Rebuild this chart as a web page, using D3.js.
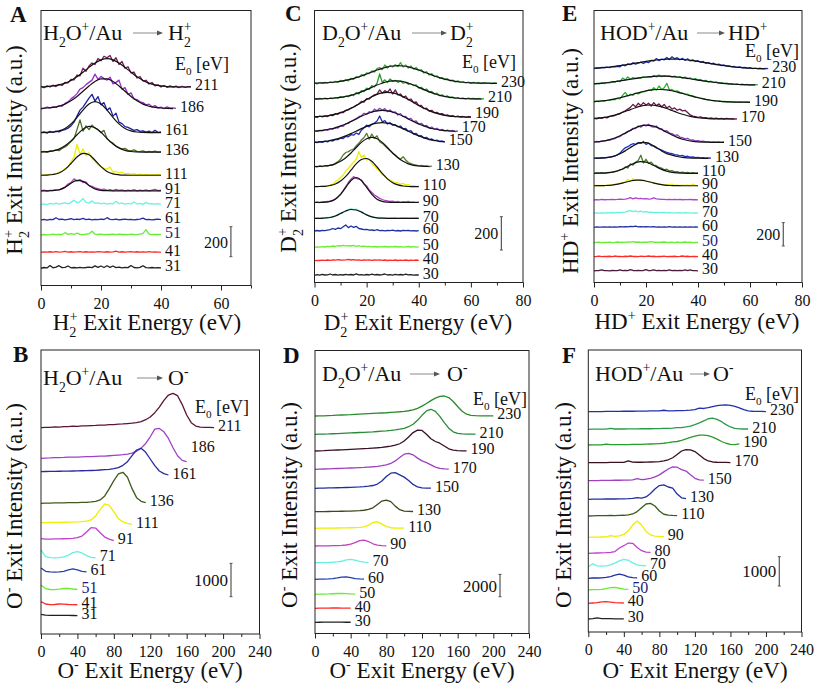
<!DOCTYPE html>
<html><head><meta charset="utf-8">
<script src="https://cdn.jsdelivr.net/npm/d3@7"></script>
<style>
body{margin:0;background:#fff}
svg text{font-family:"Liberation Serif","Times New Roman",serif;white-space:pre}
</style>
</head><body>
<svg id="chart" width="817" height="687"></svg>
<script>
// ---------------- DATA (counts above each trace's offset) ----------------
// Panel A : H2O+/Au -> H2+  (x from 0 eV, 1 eV step; fits 2 eV step)
const A_E0 = ["211","186","161","136","111","91","71","61","51","41","31"];
const A_offset = [1323,1179,1019,889,735,631,539,437,337,221,115];
const A_xTicks = [0,20,40,60];
const A_data = [
[5,-5,8,0,12,3,18,10,30,28,50,48,80,75,125,105,140,160,150,190,175,205,195,210,170,195,150,170,125,135,95,100,60,70,40,45,20,30,8,15,0,10,-2,8,0,6,-4,5,-3,2,3],
[-3,3,10,5,12,8,20,15,35,45,65,80,100,130,140,160,175,190,230,195,215,200,190,210,165,175,190,130,140,95,105,65,60,45,40,25,30,12,20,5,10,0,12,3,5,2],
[0,5,-3,8,2,10,5,15,20,30,45,70,110,150,170,200,230,255,210,240,185,200,150,165,110,130,70,60,40,35,25,15,20,8,12,3,10,0,15,2,5],
[0,5,-2,6,8,15,10,25,35,50,70,90,150,215,140,175,150,180,160,150,130,145,90,70,60,40,30,20,25,12,8,15,5,3,8,0,5,2,6,0,3],
[0,3,0,5,5,10,20,25,45,55,90,120,205,140,175,130,150,110,95,70,60,45,40,55,20,25,15,20,10,12,5,10,3,8,2,6,0,4,2,5,0],
[0,5,-2,3,5,8,5,15,25,45,55,80,65,75,55,60,35,30,20,15,8,12,3,8,2,10,3,6,0,5,2,8,0,4,2,7,0,5,10,2,4],
[0,5,0,8,3,10,4,8,12,5,15,30,12,20,42,15,10,25,8,12,5,10,4,8,5,22,6,10,3,8,5,18,4,8,2,15,5,7,3,6,2],
[0,3,-2,4,2,15,3,5,0,4,8,2,6,3,10,2,5,0,4,2,6,3,15,4,2,6,0,3,5,2,4,0,3,6,12,2,4,0,3,5,2],
[0,3,0,2,5,2,4,3,15,4,8,3,12,4,2,5,8,25,5,3,6,2,4,3,5,2,6,3,4,2,5,3,2,6,10,35,5,2,4,3,2],
[0,3,1,4,2,5,1,3,6,2,4,1,3,5,2,4,1,3,2,5,3,1,4,2,3,8,2,4,1,3,5,2,4,1,3,2,5,2,3,1,2],
[0,5,2,18,3,8,17,4,6,15,3,5,2,6,3,5,8,4,16,6,15,5,17,6,15,4,8,3,6,4,18,5,3,6,17,4,3,5,2,4,3]
];
const A_fit = [
[1,3,7,14,26,44,68,99,131,160,181,189,181,160,131,99,68,44,26,14,7,3,1,0,0,0],
[1,4,8,16,30,52,81,116,151,181,198,198,181,151,116,81,52,30,16,8,4,1,0],
[0,1,4,12,28,58,101,150,191,207,191,150,101,58,28,12,4,1,0,0,0],
[1,3,8,20,42,75,116,152,171,162,132,91,54,27,12,4,1,0,0,0,0],
[0,1,5,15,39,78,121,146,137,100,57,25,9,3,1,0,0,0,0,0,0],
[0,0,1,7,23,50,70,63,36,13,3,1,0,0,0,0,0,0,0,0,0],
[],[],[],[],[]
];
const A_colors = ["#6e1a55","#9b30c8","#1f1f9f","#4d6b24","#eeee00","#b43cc0","#6ff0e4","#2a2aa8","#66ee33","#ff2a2a","#222222"];

// Panel B : H2O+/Au -> O-  (5 eV step)
const B_E0 = ["211","186","161","136","111","91","71","61","51","41","31"];
const B_offset = [6189,5169,4770,3921,3291,2799,2271,1851,1320,870,549];
const B_xTicks = [0,40,80,120,160,200,240];
const B_data = [
[0,12,10,22,20,32,30,45,42,52,55,62,68,78,80,92,95,105,112,125,135,155,185,240,320,450,620,820,980,1030,960,700,380,150,50,20,10,12,5],
[100,110,112,120,125,128,135,138,140,145,150,155,160,165,170,178,188,198,210,228,258,318,408,548,748,978,998,898,698,420,180,40,0],
[100,105,108,110,112,115,118,120,125,128,130,135,140,150,160,170,190,220,290,400,580,750,800,680,480,280,120,40,0],
[0,5,8,10,12,15,18,20,22,25,30,40,60,100,220,440,680,880,930,780,440,170,60,20],
[50,52,55,58,60,62,65,68,70,80,95,130,250,450,610,570,370,170,70,30,0],
[60,45,50,52,55,58,62,70,90,140,260,390,380,240,110,50,0],
[250,50,20,15,20,40,90,170,200,160,80,30,15],
[130,30,12,8,12,30,75,100,70,25,10],
[150,40,15,12,25,45,50,30,15],
[100,30,12,15,30,25,15,10,8],
[40,15,10,8,10,8,10,6,5]
];
const B_colors = ["#5a1438","#a040c8","#2a2aa0","#3f5a1c","#eeee00","#c040d0","#66f0e0","#2a3cb0","#66ee30","#ff2a2a","#2a1a1a"];

// Panel C : D2O+/Au -> D2+
const C_E0 = ["230","210","190","170","150","130","110","90","70","60","50","40","30"];
const C_offset = [1195,1101,991,905,839,695,575,480,385,309,211,131,43];
const C_xTicks = [0,20,40,60,80];
const C_data = [
[3,-3,5,0,6,2,9,4,12,6,18,12,22,15,30,24,40,35,52,45,62,58,75,68,88,95,82,110,92,108,98,112,100,124,98,110,92,104,85,95,76,82,62,70,50,58,40,45,30,35,22,28,15,20,8,15,5,10,2,8,0,6,1,5,-2,4,0,3,-1,2,0],
[2,-2,4,0,5,1,6,3,8,5,14,9,18,14,26,20,38,30,50,44,65,58,80,72,95,150,100,115,98,120,105,112,100,108,95,100,88,92,80,85,66,70,55,60,42,45,30,35,20,25,14,18,8,12,4,9,2,6,0,5,2,4,-1,3,0,2],
[4,0,8,3,9,5,14,10,22,18,30,28,42,45,55,62,72,80,95,92,112,110,125,135,140,165,145,160,150,170,140,165,135,140,120,128,105,110,88,92,70,72,52,55,38,42,28,30,20,22,12,15,6,10,3,8,2,5,0,4,2],
[5,2,8,5,12,8,18,14,25,22,35,32,48,50,62,70,78,90,95,110,105,120,115,135,125,140,128,138,120,130,115,118,100,108,90,92,75,80,60,65,45,50,35,38,22,28,15,20,8,14,5,10,3,7,1,4],
[3,0,6,2,9,5,14,10,20,18,28,25,38,35,48,45,58,50,75,90,105,95,110,118,130,160,125,132,112,120,105,108,95,100,82,85,68,72,52,56,40,42,28,32,18,22,12,15,7,10,5],
[2,-2,4,1,6,3,10,8,20,30,45,70,85,90,100,105,125,140,160,175,200,165,195,170,185,150,140,125,110,95,80,70,55,45,60,40,25,18,12,10,5,8,3,5,1,3],
[2,0,3,1,5,3,10,15,30,40,55,70,95,110,130,145,165,210,175,190,160,165,140,125,105,95,70,65,45,40,30,25,22,15,20,10,12,5,6,2,3],
[0,3,0,4,3,6,8,12,22,35,50,70,95,120,140,155,145,140,135,110,100,75,60,45,35,25,18,12,10,6,8,4,6,2,5,3,6,2,4,1,3],
[0,3,-1,4,2,5,6,10,15,20,30,35,45,50,58,52,55,45,40,30,22,15,10,6,4,5,2,4,1,3,2,4,0,3,2,4,1,3,2,4,1],
[0,3,0,4,2,5,8,15,10,18,14,25,36,20,30,22,28,15,12,8,10,5,6,3,8,2,4,1,3,2,5,1,3,0,4,2,3,1,2,0,2],
[0,3,1,4,2,6,4,8,5,10,8,12,9,10,8,12,6,10,5,7,4,6,3,5,2,4,3,5,2,4,3,5,2,4,1,3,5,2,4,1,3],
[0,2,1,3,2,4,2,5,3,6,4,3,5,8,4,6,3,5,2,4,3,5,2,4,3,5,2,4,1,3,2,4,1,3,2,4,1,3,2,4,2],
[0,4,1,6,2,3,8,2,5,1,4,2,6,3,5,2,9,3,4,1,5,2,7,3,5,2,4,8,2,4,1,6,3,5,2,7,3,4,1,3,2]
];
const C_fit = [
[1,2,3,5,8,12,18,25,34,44,56,68,80,90,99,104,106,104,99,90,80,68,56,44,34,25,18,12,8,5,3,2,1,1,0,0],
[1,1,2,3,6,10,15,22,32,43,56,70,84,95,105,109,109,105,95,84,70,56,43,32,22,15,10,6,3,2,1,1,0],
[3,5,7,12,19,28,40,54,71,89,107,124,138,147,150,147,138,124,107,89,71,54,40,28,19,12,7,5,3,2,1],
[4,6,10,16,23,34,46,61,76,92,106,118,125,128,125,118,106,92,76,61,46,34,23,16,10,6,4,2],
[3,5,8,13,20,29,41,54,69,84,98,110,117,120,117,110,98,84,69,54,41,29,20,13,8,5],
[1,2,4,8,17,32,54,82,115,146,168,176,168,146,115,82,54,32,17,8,4,2,1],
[0,1,2,7,16,34,62,99,137,163,169,152,118,80,47,24,11,4,1,0,0],
[0,0,2,7,20,49,91,132,150,132,91,49,20,7,2,0,0,0,0,0,0],
[0,0,2,5,14,29,44,53,50,37,21,9,3,1,0,0,0,0,0,0,0],
[],[],[],[]
];
const C_colors = ["#3ea83e","#2e9a2e","#6a1a4a","#8a3cc8","#2030b0","#5a7a30","#eeee00","#b040c0","#66f0e0","#2030a0","#66ee30","#ff2a2a","#222222"];

// Panel D : D2O+/Au -> O-  (5 eV step)
const D_E0 = ["230","210","190","170","150","130","110","90","70","60","50","40","30"];
const D_offset = [19472,17833,16338,14700,12999,10904,9418,7833,6338,4852,3509,2256,1003];
const D_xTicks = [0,40,80,120,160,200,240];
const D_data = [
[0,10,20,40,50,70,90,100,120,150,170,190,210,230,250,270,290,320,350,380,420,470,540,680,880,1120,1380,1600,1760,1790,1650,1300,850,420,160,60,30,20,20,15,10],
[0,10,20,30,50,60,80,100,120,140,160,180,200,220,250,280,310,350,400,460,540,680,900,1250,1700,2100,2240,2050,1600,1050,550,220,80,30,20,15,10],
[0,20,30,50,70,90,110,130,150,170,190,210,230,260,290,330,380,440,520,650,900,1250,1650,1870,1840,1500,1100,850,700,450,200,80,30,20,10],
[0,15,25,40,55,70,85,100,115,130,150,170,200,230,270,320,400,520,750,1050,1350,1430,1300,1000,750,600,400,200,80,30,20],
[0,10,20,30,40,50,60,70,85,100,120,150,190,250,380,650,1050,1350,1400,1200,1000,700,350,120,40,20,10],
[0,10,15,20,30,35,40,50,60,80,100,130,200,350,650,950,1040,900,500,180,60,30,20],
[0,10,10,15,20,25,30,40,50,60,80,130,280,520,580,400,150,50,20,15,10],
[0,10,15,20,30,40,60,90,160,300,480,530,400,200,80,30,20],
[0,10,15,20,40,70,130,250,300,230,120,50,30],
[0,10,15,30,60,120,200,220,150,70,30,20],
[0,10,20,30,50,70,80,60,30,20],
[0,10,15,20,25,25,20,15,10],
[0,5,8,10,8,10,8,6,5]
];
const D_colors = ["#2a8a2a","#2a8a3a","#3a1028","#a040c0","#2030a0","#3a4a1a","#eeee00","#c040c0","#66f0e0","#2040b0","#66ee30","#ff2a2a","#222222"];

// Panel E : HOD+/Au -> HD+
const E_E0 = ["230","210","190","170","150","130","110","90","80","70","60","50","40","30"];
const E_offset = [1829,1692,1544,1401,1201,1064,936,829,707,593,473,341,221,99];
const E_xTicks = [0,20,40,60,80];
const E_data = [
[5,10,8,14,10,16,12,20,18,24,20,35,28,45,38,55,42,50,60,48,62,55,75,68,90,72,85,80,100,82,105,88,98,80,92,75,88,70,80,65,72,58,65,50,55,45,50,38,42,30,35,25,28,20,22,15,18,12,14,8,12,5,9,3,7,2,5,3],
[8,15,10,18,12,20,18,28,25,35,30,60,45,70,50,65,55,62,60,70,65,72,68,82,70,85,72,80,75,78,70,76,66,72,60,68,55,62,48,55,42,48,35,40,28,33,22,27,16,20,12,16,8,12,5,9,3,7,2,5,0,4,1,3],
[5,10,6,14,10,16,18,25,22,35,30,60,85,55,70,60,80,72,85,90,95,105,100,125,105,140,110,125,163,105,110,95,98,85,80,72,70,60,55,45,42,35,32,25,22,18,15,12,10,8,7,5,6,2,4,1,3,0,2,4,1],
[5,2,10,6,15,10,22,25,30,40,45,60,70,85,100,125,105,135,115,140,120,135,110,140,115,130,105,125,95,110,85,95,75,85,70,75,55,35,25,20,15,18,10,12,6,10,3,7,2,6,0,5,1,4,0,2],
[2,8,4,10,12,18,20,25,32,45,50,70,75,95,100,120,118,140,130,150,140,155,135,130,140,115,118,95,100,80,75,60,65,45,40,30,35,20,22,12,15,8,10,4,7,2,5,1,4,0,3],
[0,4,2,6,4,8,10,14,20,30,45,70,90,100,115,125,120,135,128,145,120,130,110,105,90,80,70,60,52,45,40,32,30,22,25,15,18,10,12,6,8,3,6,2,4,1],
[0,3,1,5,2,6,8,10,15,20,30,35,55,45,80,70,95,110,155,90,120,85,95,70,65,50,45,30,35,20,22,12,15,6,10,3,8,2,5,1,3],
[0,3,0,4,2,5,6,8,12,15,20,25,30,55,38,60,45,52,42,48,38,35,30,22,20,15,12,8,10,5,15,4,6,2,5,3,6,2,15,3,2],
[0,3,1,5,2,4,3,6,4,5,7,5,8,12,20,10,18,12,14,10,12,8,10,18,9,7,5,6,3,5,4,6,3,5,2,4,3,5,2,4,1],
[0,3,1,4,2,5,3,6,4,7,5,8,10,18,22,15,20,12,18,10,14,8,10,6,8,5,6,8,3,5,2,4,3,5,2,6,3,4,2,4,1],
[0,3,1,2,4,2,3,1,4,2,5,3,6,4,8,5,10,4,6,3,5,4,3,6,2,4,1,3,2,5,2,3,1,4,2,3,1,3,2,4,1],
[0,2,4,1,3,2,5,1,3,6,2,4,3,7,5,9,4,6,3,5,4,6,10,4,5,2,4,6,3,2,5,1,4,3,2,6,2,4,1,3,2],
[0,2,5,1,3,2,4,1,6,2,3,1,4,2,6,2,3,1,5,2,3,6,2,4,1,3,2,5,1,3,2,4,1,3,6,2,4,1,3,2,1],
[0,2,4,10,2,3,1,4,2,3,10,2,4,3,12,4,2,5,3,4,12,3,4,10,2,5,3,4,2,10,3,4,2,5,3,10,2,9,3,2,1]
];
const E_fit = [
[7,10,14,18,23,29,36,43,51,58,66,72,78,82,85,86,85,82,78,72,66,58,51,43,36,29,23,18,14,10,7,5,4,3],
[10,14,18,24,30,36,43,50,57,64,69,73,76,77,76,73,69,64,57,50,43,36,30,24,18,14,10,7,5,3,2,1],
[6,10,14,21,29,39,51,63,76,88,99,106,110,110,106,99,88,76,63,51,39,29,21,14,10,6,4,2,1,1,0],
[5,9,14,23,34,48,64,81,97,110,118,120,115,104,90,73,56,41,28,18,11,7,4,2,1,1,0,0],
[3,7,13,23,37,56,79,103,125,141,148,144,131,110,86,63,43,27,16,8,4,2,1,0,0,0],
[1,2,4,10,21,40,64,93,119,135,135,119,93,64,40,28,16,8,4,2,1,0,0],
[0,1,2,6,14,28,48,71,91,100,95,78,55,33,18,8,3,1,0,0,0],
[0,1,2,4,10,18,30,41,48,48,41,30,18,10,4,2,1,0,0,0,0],
[],[],[],[],[],[]
];
const E_colors = ["#2030c0","#30a040","#30b030","#6a1a4a","#9040c0","#2030c0","#4a7a2a","#eeee00","#b040d0","#66f0e0","#2030a0","#66ee30","#ff2a2a","#4a1a3a"];

// Panel F : HOD+/Au -> O-  (5 eV step)
const F_E0 = ["230","210","190","170","150","130","110","90","80","70","60","50","40","30"];
const F_offset = [7519,6918,6382,5778,5164,4529,3959,3232,2686,2229,1833,1433,980,444];
const F_xTicks = [0,40,80,120,160,200,240];
const F_data = [
[0,5,5,5,10,10,10,10,15,15,15,20,20,20,25,25,25,50,30,30,35,40,45,55,70,120,110,140,175,205,225,230,215,180,130,70,30,15,10,10,5],
[0,5,5,5,5,30,10,10,10,15,15,15,20,20,20,25,25,30,35,40,60,60,80,110,160,220,290,360,380,340,260,160,80,30,15,10,10],
[0,5,5,5,30,10,10,10,15,15,20,20,25,30,35,40,50,60,80,110,120,160,210,260,300,335,340,320,270,200,120,60,25,15,40],
[0,5,5,5,5,10,10,10,10,60,20,15,15,20,25,30,40,60,100,170,280,400,450,440,380,260,140,60,25,15,10,10,5],
[0,5,5,10,10,10,15,15,20,20,25,70,35,50,80,130,200,300,400,470,460,380,330,200,80,30,20],
[0,5,5,5,10,10,10,15,15,20,30,60,40,80,200,350,470,490,420,380,180,50,20],
[0,5,10,10,10,20,15,20,25,40,70,150,280,410,430,340,170,60,30,20,15],
[0,5,5,10,15,60,30,50,100,220,420,560,420,200,80,40,30,25],
[0,5,10,15,20,30,60,180,260,350,340,200,90,40,30],
[0,100,30,20,30,60,120,200,250,220,130,60,40,30],
[0,10,10,15,30,60,110,140,110,50,20,15],
[0,10,15,20,50,80,90,60,30,20],
[0,10,20,50,60,40,20,15,10],
[0,10,40,15,10,10,5,5,5]
];
const F_colors = ["#2030b0","#2a9a4a","#2a9a2a","#3a1020","#a040c0","#2030a0","#3a5a1a","#eeee00","#c040d0","#66f0e0","#2030a0","#66ee30","#ff2a2a","#222222"];

// ---------------- DRAWING ----------------
const svg = d3.select("#chart");
const SERIF = '"Liberation Serif","Times New Roman",serif';
const SANS = '"Liberation Sans",Arial,sans-serif';

function rich(g, x, y, parts, size, anchor) {
  const t = g.append("text").attr("x", x).attr("y", y).attr("font-size", size)
    .attr("text-anchor", anchor || "start").attr("fill", "#111");
  let cur = 0;
  for (const p of parts) {
    const k = p[1] || "n";
    const off = k === "sub" ? size * 0.3 : k === "sup" ? -size * 0.4 : 0;
    const ts = t.append("tspan").text(p[0]).attr("dy", off - cur)
      .attr("font-size", k === "n" ? size : size * 0.62);
    if (p[2]) ts.attr("dx", p[2]);
    cur = off;
  }
  return t;
}
function arrow(g, x1, x2, y) {
  g.append("line").attr("x1", x1).attr("x2", x2 - 4).attr("y1", y).attr("y2", y)
    .attr("stroke", "#8a8a8a").attr("stroke-width", 1);
  g.append("path").attr("d", `M${x2},${y}L${x2 - 6},${y - 2.5}L${x2 - 6},${y + 2.5}Z`).attr("fill", "#555");
}

function drawPanel(P) {
  const g = svg.append("g");
  const x = d3.scaleLinear().domain([0, P.xMax]).range(P.xr);
  const y = d3.scaleLinear().domain([0, P.yMax]).range(P.yr);
  const line = d3.line().x(d => x(d[0])).y(d => y(d[1]));
  const fitLine = d3.line().x(d => x(d[0])).y(d => y(d[1])).curve(d3.curveMonotoneX);

  P.data.forEach((vals, i) => {
    const pts = vals.map((v, j) => [j * P.step, P.offset[i] + v]);
    g.append("path").attr("d", line(pts)).attr("fill", "none")
      .attr("stroke", P.colors[i]).attr("stroke-width", 1.3).attr("stroke-linejoin", "round");
    if (P.fit && P.fit[i] && P.fit[i].length) {
      const fp = P.fit[i].map((v, j) => [j * P.fitStep, P.offset[i] + v]);
      g.append("path").attr("d", fitLine(fp)).attr("fill", "none")
        .attr("stroke", "#111").attr("stroke-width", 1.2);
    }
    const last = pts[pts.length - 1];
    const dy = P.labelDy ? (P.labelDy[i] || 0) : 0;
    g.append("text").attr("x", x(last[0]) + 4).attr("y", y(last[1]) + 3.5 + dy)
      .attr("font-size", 16).attr("fill", P.E0[i] === P.navy ? "#1c1c7a" : "#111")
      .text(P.E0[i]);
  });

  // frame
  g.append("rect").attr("x", P.xr[0]).attr("y", P.yr[1])
    .attr("width", P.xr[1] - P.xr[0]).attr("height", P.yr[0] - P.yr[1])
    .attr("fill", "none").attr("stroke", "#222").attr("stroke-width", 1);

  // x axis: major + minor ticks (outward)
  const minor = d3.range(0, P.xMax + 0.001, P.minorStep).filter(v => !P.major.includes(v));
  const ax = g.append("g").attr("transform", `translate(0,${P.yr[0]})`)
    .call(d3.axisBottom(x).tickValues(P.major).tickSize(5).tickPadding(P.tickPad).tickFormat(d3.format("d")));
  ax.select(".domain").remove();
  ax.selectAll("text").attr("font-family", SERIF).attr("font-size", 16).attr("fill", "#111");
  ax.selectAll("line").attr("stroke", "#222");
  const am = g.append("g").attr("transform", `translate(0,${P.yr[0]})`)
    .call(d3.axisBottom(x).tickValues(minor).tickSize(3).tickFormat(""));
  am.select(".domain").remove();
  am.selectAll("line").attr("stroke", "#222");

  // scale bar
  const bx = x(P.bar.x), b0 = y(P.bar.base), b1 = y(P.bar.base + P.bar.len);
  g.append("line").attr("x1", bx).attr("x2", bx).attr("y1", b0).attr("y2", b1)
    .attr("stroke", "#555").attr("stroke-width", 1.2);
  [b0, b1].forEach(v => g.append("line").attr("x1", bx - 1.5).attr("x2", bx + 1.5)
    .attr("y1", v).attr("y2", v).attr("stroke", "#555").attr("stroke-width", 1));
  g.append("text").attr("x", bx - 3).attr("y", (b0 + b1) / 2 + 6).attr("text-anchor", "end")
    .attr("font-family", SANS).attr("font-size", P.bar.size).attr("fill", "#111").text(P.bar.label);

  // panel letter
  g.append("text").attr("x", P.letter[1]).attr("y", P.letter[2]).attr("font-size", 23)
    .attr("font-weight", "bold").attr("fill", "#111").text(P.letter[0]);
  // E0 header
  rich(g, P.e0Head[0], P.e0Head[1], [["E"], ["0", "sub"], [" [eV]"]], 18);
  // reaction title
  rich(g, P.title.x, P.title.y, P.title.a, 22);
  arrow(g, P.title.ax1, P.title.ax2, P.title.y - 7);
  rich(g, P.title.bx, P.title.y, P.title.b, 22);
  // axis titles
  rich(g, P.xTitle[0], P.xTitle[1], P.ion.concat([[" Exit Energy (eV)"]]), 23, "middle");
  const yt = rich(g, 0, 0, P.ion.concat([[" Exit Intensity (a.u.)"]]), 23, "middle");
  yt.attr("transform", `translate(${P.yTitle[0]},${P.yTitle[1]}) rotate(-90)`);
}

const H2 = [["H"], ["2", "sub"], ["+", "sup", -7]];
const D2 = [["D"], ["2", "sub"], ["+", "sup", -7]];
const HD = [["HD"], ["+", "sup"]];
const Om = [["O"], ["-", "sup"]];

drawPanel({E0: A_E0, offset: A_offset, data: A_data, fit: A_fit, colors: A_colors, step: 1, fitStep: 2,
  xr: [41, 251], xMax: 70, yr: [285.5, 10.5], yMax: 1833, major: A_xTicks, minorStep: 10, tickPad: 7,
  navy: "51", bar: {x: 63.3, base: 192, len: 200, label: "200", size: 16},
  letter: ["A", 10, 22], e0Head: [175, 70],
  title: {x: 43, y: 40, a: [["H"], ["2", "sub"], ["O"], ["+", "sup"], ["/Au"]], ax1: 133, ax2: 163, bx: 168, b: H2},
  ion: H2, xTitle: [147, 330], yTitle: [22, 150]});

drawPanel({E0: B_E0, offset: B_offset, data: B_data, fit: null, colors: B_colors, step: 5, fitStep: 5,
  xr: [41, 259.5], xMax: 240, yr: [634, 350], yMax: 8520, major: B_xTicks, minorStep: 20, tickPad: 7,
  navy: "51", labelDy: [0, -13], bar: {x: 208.7, base: 1119, len: 1000, label: "1000", size: 17},
  letter: ["B", 13, 362], e0Head: [195, 413],
  title: {x: 43, y: 385, a: [["H"], ["2", "sub"], ["O"], ["+", "sup"], ["/Au"]], ax1: 137, ax2: 163, bx: 168, b: Om},
  ion: Om, xTitle: [150, 678], yTitle: [22, 506]});

drawPanel({E0: C_E0, offset: C_offset, data: C_data, fit: C_fit, colors: C_colors, step: 1, fitStep: 2,
  xr: [314.5, 523], xMax: 80, yr: [282.5, 10.5], yMax: 1632, major: C_xTicks, minorStep: 10, tickPad: 7,
  navy: "", labelDy: [0, 0, -3, -3], bar: {x: 71.7, base: 195, len: 200, label: "200", size: 16},
  letter: ["C", 285, 21], e0Head: [462, 68],
  title: {x: 322, y: 40, a: [["D"], ["2", "sub"], ["O"], ["+", "sup"], ["/Au"]], ax1: 412, ax2: 447, bx: 450, b: D2},
  ion: D2, xTitle: [418, 330], yTitle: [296, 148]});

drawPanel({E0: D_E0, offset: D_offset, data: D_data, fit: null, colors: D_colors, step: 5, fitStep: 5,
  xr: [315, 529], xMax: 240, yr: [633.5, 350.5], yMax: 25336, major: D_xTicks, minorStep: 20, tickPad: 7,
  navy: "", bar: {x: 207.5, base: 3294, len: 2000, label: "2000", size: 17},
  letter: ["D", 283, 363], e0Head: [473, 405],
  title: {x: 322, y: 381, a: [["D"], ["2", "sub"], ["O"], ["+", "sup"], ["/Au"]], ax1: 410, ax2: 440, bx: 447, b: Om},
  ion: Om, xTitle: [422, 678], yTitle: [297, 505]});

drawPanel({E0: E_E0, offset: E_offset, data: E_data, fit: E_fit, colors: E_colors, step: 1, fitStep: 2,
  xr: [594, 802], xMax: 80, yr: [282.5, 10.5], yMax: 2331, major: E_xTicks, minorStep: 10, tickPad: 7,
  navy: "50", bar: {x: 72.8, base: 313, len: 200, label: "200", size: 16},
  letter: ["E", 562, 21], e0Head: [745, 57],
  title: {x: 600, y: 40, a: [["HOD"], ["+", "sup"], ["/Au"]], ax1: 697, ax2: 725, bx: 728, b: HD},
  ion: HD, xTitle: [697, 329], yTitle: [578, 161]});

drawPanel({E0: F_E0, offset: F_offset, data: F_data, fit: null, colors: F_colors, step: 5, fitStep: 5,
  xr: [588.3, 801.5], xMax: 240, yr: [632, 350], yMax: 9625, major: F_xTicks, minorStep: 20, tickPad: 7,
  navy: "50", bar: {x: 215, base: 1570, len: 1000, label: "1000", size: 17},
  letter: ["F", 562, 363], e0Head: [745, 400],
  title: {x: 595, y: 381, a: [["HOD"], ["+", "sup"], ["/Au"]], ax1: 690, ax2: 710, bx: 713, b: Om},
  ion: Om, xTitle: [695, 678], yTitle: [571, 505]});
</script>
</body></html>
